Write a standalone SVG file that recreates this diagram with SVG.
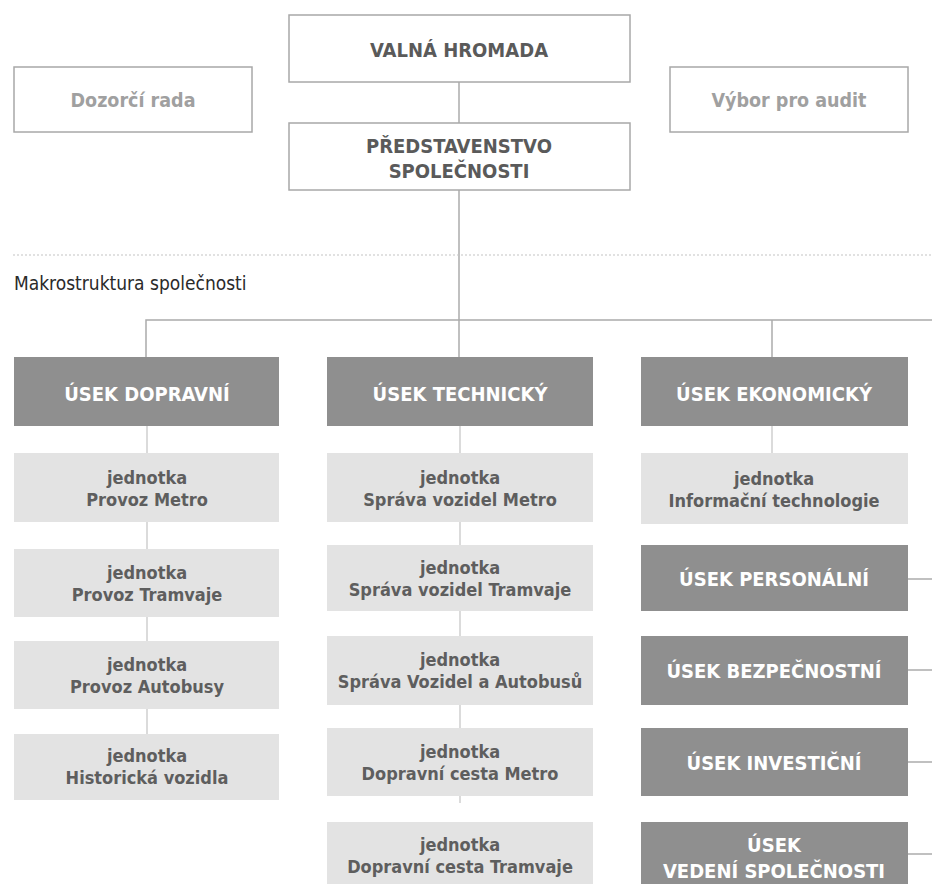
<svg xmlns="http://www.w3.org/2000/svg" width="932" height="884" viewBox="0 0 932 884">
<style>
.top{fill:#fff;stroke:#a8a8a8;stroke-width:1.5}
.dark{fill:#8f8f8f}
.light{fill:#e3e3e3}
.t{font-family:"Liberation Sans Narrow","DejaVu Sans Condensed","Roboto",sans-serif;font-weight:bold;text-anchor:middle;font-stretch:condensed}
.tt{fill:#5a5a5a;font-size:20px}
.tg{fill:#a0a0a0;font-size:19.5px}
.tw{fill:#fff;font-size:20px}
.tl{fill:#5e5e5e;font-size:18px}
.c{stroke:#ababab;stroke-width:1.5;fill:none}
.cl{stroke:#cfcfcf;stroke-width:1.5;fill:none}
</style>
<rect width="932" height="884" fill="#fff"/>
<g id="connectors">
<line class="c" x1="459" y1="82" x2="459" y2="123"/>
<line class="c" x1="459" y1="190" x2="459" y2="357"/>
<polyline class="c" points="146,357 146,320 932,320"/>
<line class="c" x1="772" y1="320" x2="772" y2="357"/>
<line class="cl" x1="147" y1="426" x2="147" y2="453"/>
<line class="cl" x1="147" y1="522" x2="147" y2="549"/>
<line class="cl" x1="147" y1="617" x2="147" y2="641"/>
<line class="cl" x1="147" y1="709" x2="147" y2="734"/>
<line class="cl" x1="460" y1="426" x2="460" y2="453"/>
<line class="cl" x1="460" y1="522" x2="460" y2="545"/>
<line class="cl" x1="460" y1="611" x2="460" y2="636"/>
<line class="cl" x1="460" y1="705" x2="460" y2="728"/>
<line class="cl" x1="460" y1="796" x2="460" y2="803"/>
<line class="cl" x1="772" y1="426" x2="772" y2="453"/>
<line class="c" x1="908" y1="579" x2="932" y2="579"/>
<line class="c" x1="908" y1="670" x2="932" y2="670"/>
<line class="c" x1="908" y1="762" x2="932" y2="762"/>
<line class="c" x1="908" y1="854" x2="932" y2="854"/>
</g>
<line x1="13" y1="255" x2="932" y2="255" stroke="#c4c4c4" stroke-width="1.2" stroke-dasharray="2 2"/>
<text x="14" y="290" font-family="'Liberation Sans Narrow','DejaVu Sans Condensed','Roboto',sans-serif" font-stretch="condensed" font-size="19" fill="#2a2a2a">Makrostruktura společnosti</text>

<g id="valna"><rect class="top" x="289" y="15" width="341" height="67"/><text class="t tt" x="459" y="57">VALNÁ HROMADA</text></g>
<g id="dozorci"><rect class="top" x="14" y="67" width="238" height="65"/><text class="t tg" x="133" y="107">Dozorčí rada</text></g>
<g id="vybor"><rect class="top" x="670" y="67" width="238" height="65"/><text class="t tg" x="789" y="107">Výbor pro audit</text></g>
<g id="predstavenstvo"><rect class="top" x="289" y="123" width="341" height="67"/><text class="t tt" x="459" y="153">PŘEDSTAVENSTVO</text><text class="t tt" x="459" y="178">SPOLEČNOSTI</text></g>

<g id="usek-dopravni"><rect class="dark" x="14" y="357" width="265" height="69"/><text class="t tw" x="147" y="401">ÚSEK DOPRAVNÍ</text></g>
<g id="usek-technicky"><rect class="dark" x="327" y="357" width="266" height="69"/><text class="t tw" x="460" y="401">ÚSEK TECHNICKÝ</text></g>
<g id="usek-ekonomicky"><rect class="dark" x="641" y="357" width="267" height="69"/><text class="t tw" x="774" y="401">ÚSEK EKONOMICKÝ</text></g>

<g id="provoz-metro"><rect class="light" x="14" y="453" width="265" height="69"/><text class="t tl" x="147" y="484">jednotka</text><text class="t tl" x="147" y="506">Provoz Metro</text></g>
<g id="provoz-tramvaje"><rect class="light" x="14" y="549" width="265" height="68"/><text class="t tl" x="147" y="579">jednotka</text><text class="t tl" x="147" y="601">Provoz Tramvaje</text></g>
<g id="provoz-autobusy"><rect class="light" x="14" y="641" width="265" height="68"/><text class="t tl" x="147" y="671">jednotka</text><text class="t tl" x="147" y="693">Provoz Autobusy</text></g>
<g id="historicka"><rect class="light" x="14" y="734" width="265" height="66"/><text class="t tl" x="147" y="762">jednotka</text><text class="t tl" x="147" y="784">Historická vozidla</text></g>

<g id="sprava-metro"><rect class="light" x="327" y="453" width="266" height="69"/><text class="t tl" x="460" y="484">jednotka</text><text class="t tl" x="460" y="506">Správa vozidel Metro</text></g>
<g id="sprava-tramvaje"><rect class="light" x="327" y="545" width="266" height="66"/><text class="t tl" x="460" y="574">jednotka</text><text class="t tl" x="460" y="596">Správa vozidel Tramvaje</text></g>
<g id="sprava-autobusu"><rect class="light" x="327" y="636" width="266" height="69"/><text class="t tl" x="460" y="666">jednotka</text><text class="t tl" x="460" y="688">Správa Vozidel a Autobusů</text></g>
<g id="cesta-metro"><rect class="light" x="327" y="728" width="266" height="68"/><text class="t tl" x="460" y="758">jednotka</text><text class="t tl" x="460" y="780">Dopravní cesta Metro</text></g>
<g id="cesta-tramvaje"><rect class="light" x="327" y="822" width="266" height="70"/><text class="t tl" x="460" y="851">jednotka</text><text class="t tl" x="460" y="873">Dopravní cesta Tramvaje</text></g>

<g id="it"><rect class="light" x="641" y="453" width="267" height="71"/><text class="t tl" x="774" y="485">jednotka</text><text class="t tl" x="774" y="507">Informační technologie</text></g>
<g id="usek-personalni"><rect class="dark" x="641" y="545" width="267" height="66"/><text class="t tw" x="774" y="586">ÚSEK PERSONÁLNÍ</text></g>
<g id="usek-bezpecnostni"><rect class="dark" x="641" y="636" width="267" height="69"/><text class="t tw" x="774" y="678">ÚSEK BEZPEČNOSTNÍ</text></g>
<g id="usek-investicni"><rect class="dark" x="641" y="728" width="267" height="68"/><text class="t tw" x="774" y="770">ÚSEK INVESTIČNÍ</text></g>
<g id="usek-vedeni"><rect class="dark" x="641" y="822" width="267" height="70"/><text class="t tw" x="774" y="852">ÚSEK</text><text class="t tw" x="774" y="878">VEDENÍ SPOLEČNOSTI</text></g>
</svg>
